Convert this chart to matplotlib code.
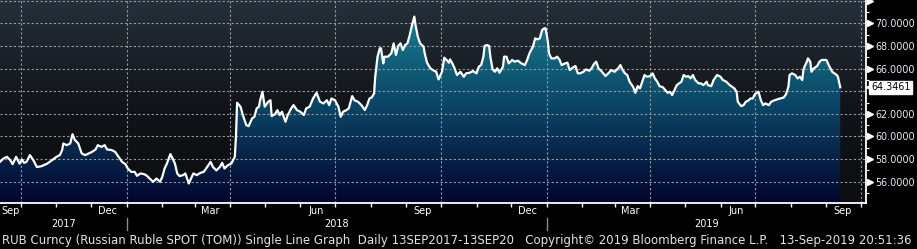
import numpy as np
import pandas as pd
import matplotlib
matplotlib.use("Agg")
import matplotlib.pyplot as plt
import matplotlib.dates as mdates
import matplotlib.transforms as mtrans
from matplotlib.colors import LinearSegmentedColormap

plt.rcParams['font.family'] = ['DejaVu Sans']

# RUB spot: days after 13 Sep 2017 -> close
start = pd.Timestamp("2017-09-13")
days = [0, 3, 6, 9, 11, 14, 17, 19, 21, 23, 26, 29, 32, 36, 41, 46, 49, 52, 54, 55,
        58, 61, 63, 65, 68, 71, 74, 77, 80, 83, 85, 88, 91, 93, 97, 100, 103, 106, 109, 111,
        114, 117, 119, 122, 125, 127, 130, 133, 136, 139, 141, 143, 145, 148, 150, 152, 154, 156, 159, 161,
        164, 166, 168, 171, 174, 177, 180, 183, 185, 188, 191, 193, 195, 198,
        201, 204, 205, 206, 209, 211, 212, 214, 216, 219, 221, 223, 225, 226, 228, 230, 233, 235, 236, 239,
        241, 243, 245, 248, 250, 253, 255, 258, 261, 264, 266, 269, 272, 275, 278, 281, 284, 286, 288, 291,
        294, 296, 298, 301, 303, 306, 308, 311, 314, 317, 319, 321, 323, 325, 326, 328, 330, 331, 333, 334,
        337, 340, 342, 344, 346, 348, 350, 352, 354, 356, 358, 360, 361, 363, 365, 368, 369, 371, 374, 376,
        379, 381, 384, 386, 388, 390,
        391, 393, 395, 397, 400, 403, 405, 408, 411, 414, 416, 418, 420, 421, 423, 425, 426, 428, 430, 432,
        434, 437, 438, 440, 442, 445, 447, 450, 453, 456, 458, 460, 463, 465, 467, 469, 471, 473, 474, 476,
        477, 479, 482, 484, 486, 488, 491, 493, 495, 498, 500, 502, 504, 507, 509, 512, 514, 516, 518, 520,
        523, 526, 529, 531, 534, 537, 539, 541, 543, 545, 547, 550, 552, 554, 556, 558, 560, 562, 565, 567,
        569, 571, 573, 576, 578, 580, 582, 584,
        586, 588, 590, 592, 594, 596, 598, 600, 602, 604, 607, 609, 611, 614, 615, 618, 620, 623, 626, 628,
        631, 634, 638, 640, 641, 644, 646, 648, 650, 652, 654, 656, 659, 661, 663, 665, 668, 670, 672, 675,
        678, 681, 683, 685, 686, 688, 691, 693, 695, 697, 698, 699, 701, 702, 704, 705, 707, 710, 712, 714,
        716, 718, 720, 723, 725, 727, 728, 730]
rub = [57.76, 58.05, 58.2, 57.9, 57.55, 58.2, 57.6, 57.96, 57.67, 57.76, 58.35, 57.9, 57.3, 57.37, 57.6, 57.96, 58.2, 58.35, 58.8, 59.38,
       59.23, 59.38, 60.2, 59.7, 59.38, 58.5, 58.35, 58.5, 58.64, 58.85, 59.23, 59.08, 59.23, 58.85, 58.8, 58.64, 58.2, 57.76, 57.55, 57.17,
       56.87, 56.87, 56.52, 56.73, 56.67, 56.58, 56.28, 55.99, 56.28, 55.99, 56.43, 57.17, 57.6, 58.44, 58.05, 57.6, 56.73, 56.5, 56.58, 56.73,
       55.84, 56.28, 56.73, 56.58, 56.78, 56.87, 57.3, 57.76, 57.3, 57.0, 57.3, 57.67, 57.17, 57.46,
       57.6, 58.2, 59.97, 62.98, 62.63, 61.89, 61.59, 61.0, 60.91, 61.59, 61.74, 62.48, 62.63, 63.2, 63.95, 62.63, 63.07, 63.2, 61.8, 61.98,
       62.33, 61.89, 62.18, 61.3, 61.89, 62.48, 62.77, 62.33, 62.18, 61.89, 62.48, 62.63, 63.36, 63.86, 63.07, 62.92, 63.2, 62.77, 63.36, 63.2,
       62.63, 61.74, 62.18, 62.33, 62.48, 63.57, 63.2, 63.07, 62.77, 62.33, 62.77, 63.36, 63.45, 63.8, 65.28, 67.05, 67.79, 67.79, 66.46, 67.05,
       67.05, 67.35, 68.23, 67.2, 68.0, 68.23, 67.64, 68.08, 68.23, 68.97, 69.85, 70.59, 69.85, 68.82, 68.23, 67.94, 67.35, 66.52, 66.02, 65.87,
       65.72, 65.04, 65.72, 66.96, 66.76, 66.52,
       66.81, 66.46, 66.02, 65.43, 65.72, 65.28, 65.58, 65.63, 65.78, 65.58, 66.17, 66.31, 67.05, 68.0, 68.08, 68.0, 67.05, 65.93, 65.72, 66.02,
       65.63, 66.17, 67.05, 67.05, 66.46, 66.76, 66.61, 66.7, 66.46, 66.31, 66.76, 67.35, 67.94, 68.67, 68.58, 68.67, 69.41, 69.56, 69.56, 68.38,
       67.35, 66.9, 66.9, 67.05, 66.81, 66.31, 66.46, 66.52, 65.87, 66.11, 66.23, 65.58, 65.58, 65.72, 65.93, 65.81, 66.02, 66.4, 66.61, 66.02,
       65.72, 65.34, 65.63, 65.87, 65.72, 66.02, 66.31, 65.87, 65.58, 65.43, 64.84, 64.4, 63.86, 64.45, 64.25, 64.84, 65.43, 65.28, 65.34, 65.58,
       65.13, 64.84, 64.45, 64.34, 64.1, 63.86, 63.95, 63.66,
       64.1, 64.54, 64.69, 64.84, 65.43, 65.28, 65.34, 65.13, 65.43, 64.99, 64.69, 64.69, 64.54, 64.84, 64.54, 64.45, 64.99, 65.43, 65.28, 64.99,
       64.84, 64.54, 64.25, 63.95, 63.07, 62.68, 62.77, 63.07, 63.16, 63.36, 63.36, 63.75, 63.95, 63.22, 62.77, 62.92, 62.77, 63.07, 63.16, 63.27,
       63.36, 63.45, 63.75, 64.4, 65.43, 65.58, 65.43, 65.13, 65.28, 64.99, 65.87, 66.17, 66.61, 66.9, 66.61, 65.72, 66.02, 66.23, 66.61, 66.76,
       66.76, 66.76, 66.31, 65.72, 65.58, 65.43, 65.28, 64.3461]
last_value = 64.3461

month_labels = ["Sep", "Dec", "Mar", "Jun", "Sep", "Dec", "Mar", "Jun", "Sep"]
month_label_dates = ["2017-09-15", "2017-12-15", "2018-03-15", "2018-06-15", "2018-09-15",
                     "2018-12-15", "2019-03-15", "2019-06-15", "2019-09-15"]
year_labels = ["2017", "2018", "2019"]
year_breaks = ["2018-01-01", "2019-01-01"]
y_ticks = [56, 58, 60, 62, 64, 66, 68, 70, 72]
y_labelled = [56, 58, 60, 62, 66, 68, 70]   # 64 sits under the last-price tag, 72 is off the top

footer = ("RUB Curncy (Russian Ruble SPOT (TOM)) Single Line Graph  Daily 13SEP2017-13SEP20   "
          "Copyright\u00a9 2019 Bloomberg Finance L.P.   13-Sep-2019 20:51:36")

x0 = mdates.date2num(start)
x1 = x0 + 752.4
ylo, yhi = 54.12, 72.06
x = x0 + np.array(days, dtype=float)
y = np.array(rub)

fig = plt.figure(figsize=(9.17, 2.49), dpi=100, facecolor='black')
ax = fig.add_axes([0, 46 / 249, 866 / 917, 203 / 249])
ax.set_xlim(x0, x1)
ax.set_ylim(ylo, yhi)

# screen background gradient
bg_cmap = LinearSegmentedColormap.from_list('bg', [(0, '#0c0e11'), (0.45, '#101317'), (1, '#25303a')])
grad = np.linspace(1, 0, 256).reshape(-1, 1)
ax.imshow(grad, extent=[x0, x1, ylo, yhi], aspect='auto', cmap=bg_cmap, zorder=0, vmin=0, vmax=1)

# area fill with vertical gradient, clipped under the curve
fill_cmap = LinearSegmentedColormap.from_list('fill', [(0, '#02052e'), (0.5, '#0b4868'), (1, '#1a8596')])
poly = ax.fill_between(x, y, ylo, color='none', lw=0)
im = ax.imshow(grad, extent=[x0, x[-1], ylo, yhi], aspect='auto', cmap=fill_cmap, zorder=1, vmin=0, vmax=1)
im.set_clip_path(poly.get_paths()[0], ax.transData)

ax.plot(x, y, color='white', lw=1.6, zorder=4, solid_joinstyle='round')

# axes and grid
ax.xaxis.set_major_locator(mdates.MonthLocator(bymonth=[1, 4, 7, 10]))
ax.xaxis.set_minor_locator(mdates.MonthLocator())
ax.yaxis.set_major_locator(plt.FixedLocator(y_ticks))
ax.yaxis.set_minor_locator(plt.MultipleLocator(1))
ax.yaxis.set_major_formatter(plt.FuncFormatter(lambda v, p: f"{v:.4f}" if round(v) in y_labelled else ""))
ax.yaxis.tick_right()
ax.grid(True, which='major', color='#9a9a9a', lw=0.8, linestyle=(0, (2, 2)), zorder=2)
ax.set_axisbelow(False)
for gl in ax.get_xgridlines() + ax.get_ygridlines():
    gl.set_zorder(2)

for s in ['top', 'left']:
    ax.spines[s].set_visible(False)
for s in ['bottom', 'right']:
    ax.spines[s].set_color('white')
    ax.spines[s].set_linewidth(1.3)
    ax.spines[s].set_zorder(5)

ax.tick_params(axis='x', which='both', direction='out', length=3, width=1, color='white', labelbottom=False)
ax.tick_params(axis='y', which='major', length=0, pad=7, labelsize=6.9, labelcolor='#e4ecfa')
ax.tick_params(axis='y', which='minor', direction='out', length=2.5, width=0.8, color='white')

# triangular pointers at the right axis
bt = mtrans.blended_transform_factory(ax.transAxes, ax.transData)
ptr = bt + mtrans.ScaledTranslation(4 / 100, 0, fig.dpi_scale_trans)
ax.plot([1.0] * len(y_labelled + [72]), y_labelled + [72], ls='none', marker='>', ms=4.5, color='white',
        transform=ptr, clip_on=False, zorder=6)

# last price tag (box drawn over its little left pointer)
ax.text(1.0, last_value, "64.3461", transform=bt + mtrans.ScaledTranslation(5 / 100, 0, fig.dpi_scale_trans),
        ha='left', va='center', fontsize=6.9, color='black', zorder=8, clip_on=False,
        bbox=dict(boxstyle='square,pad=0.18', fc='white', ec='white'))
ax.plot([1.0], [last_value], marker='<', ms=5, color='white', ls='none',
        transform=bt + mtrans.ScaledTranslation(2.5 / 100, 0, fig.dpi_scale_trans), clip_on=False, zorder=6)

# month / year labels under the axis
bx = mtrans.blended_transform_factory(ax.transData, fig.transFigure)
for lab, d in zip(month_labels, month_label_dates):
    xd = mdates.date2num(pd.Timestamp(d))
    if xd - x0 < 8:
        ax.text(x0 + 1.5, 0.153, lab, transform=bx, ha='left', va='center', fontsize=7, color='white')
    else:
        ax.text(xd, 0.153, lab, transform=bx, ha='center', va='center', fontsize=7, color='white')

edges = [x0] + [mdates.date2num(pd.Timestamp(d)) for d in year_breaks] + [x1]
for i, lab in enumerate(year_labels):
    ax.text((edges[i] + edges[i + 1]) / 2, 0.100, lab, transform=bx, ha='center', va='center',
            fontsize=7, color='white')
for e in edges[1:-1]:
    ax.plot([e, e], [0.076, 0.125], transform=bx, color='#8c8c8c', lw=1, clip_on=False)

fig.text(0.002, 0.036, footer, ha='left', va='center', fontsize=8.5, color='#e2e2e2')

fig.savefig('out.png', dpi=100, facecolor='black')
